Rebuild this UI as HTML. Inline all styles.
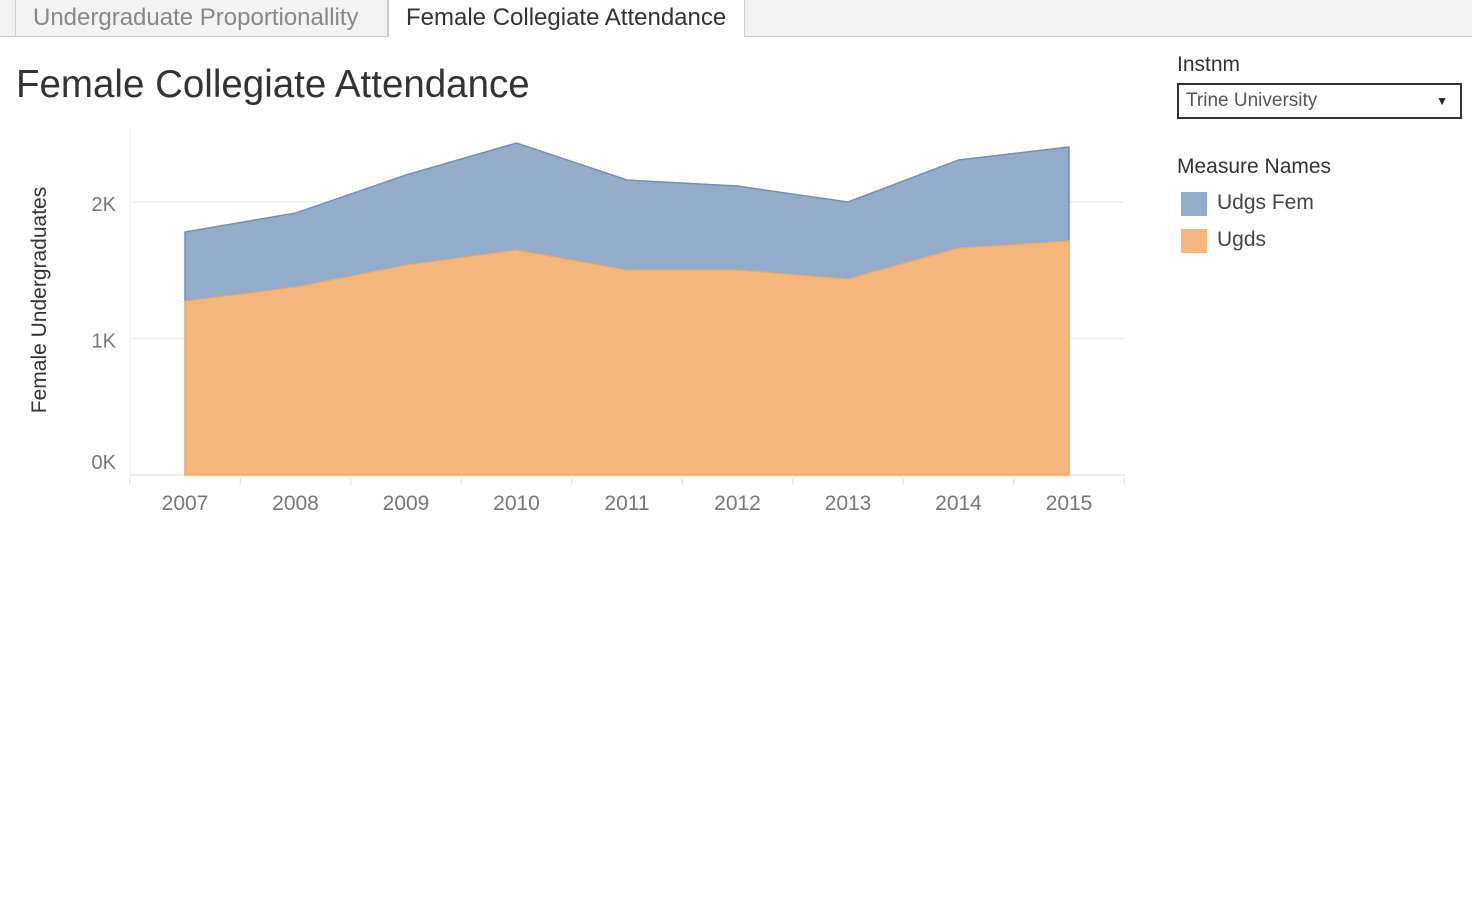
<!DOCTYPE html>
<html><head><meta charset="utf-8">
<style>
body{margin:0;width:1472px;height:908px;background:#fff;font-family:"Liberation Sans",sans-serif;overflow:hidden;position:relative}
.tabbar{position:absolute;left:0;top:0;width:1472px;height:36px;background:#f3f3f3;border-bottom:1px solid #cfcfcf}
.tab{position:absolute;top:0;height:36px;font-size:24px;line-height:36px;box-sizing:border-box;padding:0 17px;border-left:1px solid #cfcfcf;border-right:1px solid #cfcfcf;white-space:nowrap}
</style></head><body>
<div class="tabbar">
 <div class="tab" style="left:15px;width:373px;color:#888">Undergraduate Proportionallity</div>
 <div class="tab" style="left:388px;width:357px;color:#333;background:#fff;height:37px">Female Collegiate Attendance</div>
</div>
<div style="position:absolute;left:16px;top:63px;font-size:38.5px;color:#333;white-space:nowrap">Female Collegiate Attendance</div>
<div style="position:absolute;left:1177px;top:53px;font-size:21px;color:#333">Instnm</div>
<div style="position:absolute;left:1177px;top:83px;width:285px;height:36px;box-sizing:border-box;border:2px solid #333;font-size:19px;color:#555;line-height:32px;padding-left:7px">Trine University<span style="position:absolute;right:12px;top:0;font-size:12px;color:#222">&#9660;</span></div>
<div style="position:absolute;left:1177px;top:155px;font-size:21px;color:#333">Measure Names</div>
<div style="position:absolute;left:1181px;top:192px;width:26px;height:24px;background:#92acc9"></div>
<div style="position:absolute;left:1217px;top:191px;font-size:21px;color:#444">Udgs Fem</div>
<div style="position:absolute;left:1181px;top:229px;width:26px;height:24px;background:#f5b87c"></div>
<div style="position:absolute;left:1217px;top:228px;font-size:21px;color:#444">Ugds</div>
<svg id="chart" width="1472" height="908" style="position:absolute;left:0;top:0"></svg>
<script>
const years=["2007","2008","2009","2010","2011","2012","2013","2014","2015"];
const ugds=[1275,1377,1538,1648,1502,1502,1436,1663,1714];
const udgsFem=[505,542,660,784,659,615,564,645,689];
const yTicks=[0,1000,2000];
const yTickLabels=["0K","1K","2K"];
const svg=document.getElementById('chart');
const NS='http://www.w3.org/2000/svg';
function xPos(i){return 185+i*110.5;}
function yPos(v){return 475-v*0.1365;}
function mk(t,a){const e=document.createElementNS(NS,t);for(const k in a)e.setAttribute(k,a[k]);svg.appendChild(e);return e;}
yTicks.forEach((t,i)=>{
 if(t>0){const g=mk('line',{x1:130,x2:1125,y1:yPos(t),y2:yPos(t),stroke:'#eee','stroke-width':1.5});
 
 }
 const l=mk('text',{x:116,y:(t===0?yPos(t)-6:yPos(t)+9),'text-anchor':'end','font-size':20,fill:'#777','font-family':'Liberation Sans, sans-serif'});
 l.textContent=yTickLabels[i];
 
 
});
const base=mk('line',{x1:130,x2:1125,y1:475,y2:475,stroke:'#e6e6e6','stroke-width':1.5});


const vax=mk('line',{x1:130,x2:130,y1:128,y2:475,stroke:'#f0f0f0','stroke-width':1});


const topPts=years.map((_,i)=>xPos(i)+','+yPos(ugds[i]+udgsFem[i]));
const midPts=years.map((_,i)=>xPos(i)+','+yPos(ugds[i]));
const blue=mk('polygon',{points:topPts.concat(midPts.slice().reverse()).join(' '),fill:'#92acc9',stroke:'#7090b8','stroke-width':1.5});


const orange=mk('polygon',{points:midPts.concat([xPos(years.length-1)+','+yPos(0),xPos(0)+','+yPos(0)]).join(' '),fill:'#f5b87c',stroke:'#f0a860','stroke-width':1.5});


years.forEach((yr,i)=>{
 const t=mk('text',{x:xPos(i),y:510,'text-anchor':'middle','font-size':21,fill:'#777','font-family':'Liberation Sans, sans-serif'});
 t.textContent=yr;
 
 
});
for(let i=0;i<=years.length;i++){
 const tk=mk('line',{x1:xPos(i)-55.25,x2:xPos(i)-55.25,y1:478,y2:485,stroke:'#ddd'});
 
 
}
const yt=mk('text',{x:0,y:0,transform:'translate(46,300) rotate(-90)','text-anchor':'middle','font-size':21,fill:'#333','font-family':'Liberation Sans, sans-serif'});
yt.textContent='Female Undergraduates';


</script>
</body></html>
